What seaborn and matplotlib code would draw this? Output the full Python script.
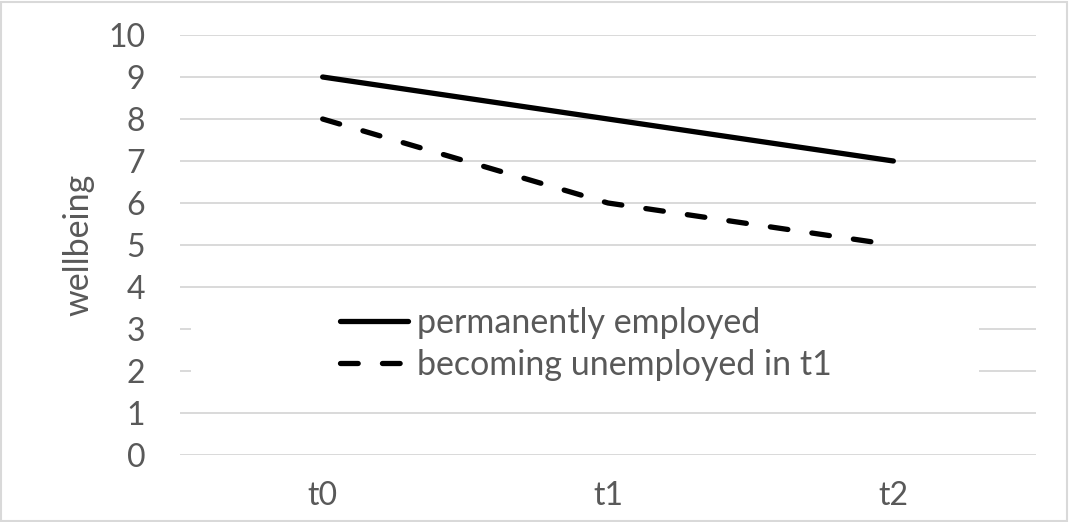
import matplotlib
matplotlib.use("Agg")
import matplotlib.pyplot as plt
import seaborn as sns
import pandas as pd

# Данные
waves = ["t0", "t1", "t2"]
employed = [9, 8, 7]
unemployed = [8, 6, 5]
y_ticks = list(range(0, 11))

sns.set_style("white")
plt.rcParams['font.family'] = ['Lato', 'DejaVu Sans']

grey_text = '#595959'
grid_col = '#d9d9d9'
W, H = 1069, 522

df = pd.DataFrame({
    'wave': waves * 2,
    'wellbeing': employed + unemployed,
    'group': ['permanently employed'] * 3 + ['becoming unemployed in t1'] * 3,
})

fig = plt.figure(figsize=(W / 100, H / 100), dpi=100)
ax = fig.add_axes([180 / W, 1 - 455 / H, (1036 - 180) / W, 420 / H])

sns.lineplot(data=df[df['group'] == 'permanently employed'], x='wave', y='wellbeing',
             ax=ax, color='black', linewidth=3.8, solid_capstyle='round',
             label='permanently employed', sort=False, zorder=3)
sns.lineplot(data=df[df['group'] == 'becoming unemployed in t1'], x='wave', y='wellbeing',
             ax=ax, color='black', linewidth=3.8, linestyle=(0, (3.35, 4.6)),
             dash_capstyle='round', label='becoming unemployed in t1', sort=False, zorder=3)

ax.set_xlim(-0.5, 2.5)
ax.set_ylim(0, 10)
ax.set_yticks(y_ticks)
ax.yaxis.grid(True, color=grid_col, linewidth=1.4)
ax.set_axisbelow(True)
for s in ax.spines.values():
    s.set_visible(False)
ax.tick_params(axis='both', length=0, labelsize=23, colors=grey_text)
ax.tick_params(axis='y', pad=25)
ax.tick_params(axis='x', pad=19)
ax.set_xlabel('')
ax.set_ylabel('wellbeing', fontsize=24.5, color=grey_text, labelpad=10)

# белая подложка легенды (перекрывает сетку, как в Excel)
ax.add_patch(plt.Rectangle((191 / W, 1 - 400 / H), (979 - 191) / W, 100 / H,
                           transform=fig.transFigure, facecolor='white',
                           edgecolor='none', zorder=1))

leg = ax.legend(loc='center left', bbox_to_anchor=(340 / W, 1 - 344 / H),
                bbox_transform=fig.transFigure, frameon=False, fontsize=24.5,
                handlelength=2.0, handletextpad=0.27, labelspacing=0.28,
                borderpad=0, borderaxespad=0)
for t in leg.get_texts():
    t.set_color(grey_text)

# рамка вокруг всей диаграммы
fig.patches.append(plt.Rectangle((0.001, 0.002), 0.997, 0.995, transform=fig.transFigure,
                                 fill=False, edgecolor=grid_col, linewidth=1.5))

fig.savefig('out.png', dpi=100)
